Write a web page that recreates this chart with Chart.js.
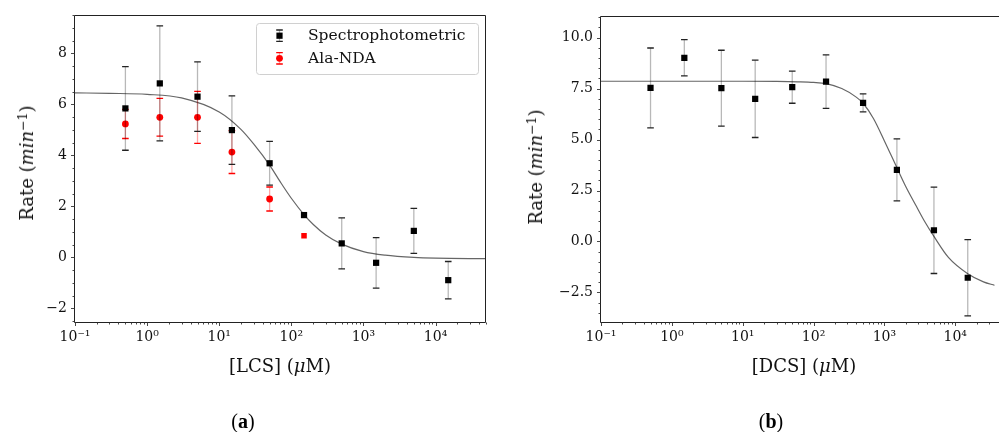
<!DOCTYPE html>
<html><head><meta charset="utf-8">
<script src="https://cdn.jsdelivr.net/npm/chart.js@4.4.0/dist/chart.umd.min.js"></script>
<style>
html,body{margin:0;padding:0;background:#fff;}
#wrap{position:relative;width:999px;height:432px;overflow:hidden;background:#fff;}
canvas{position:absolute;top:0;}
#ca{left:0;}
#cb{left:500px;}
.lbl{position:absolute;font-family:"DejaVu Serif",serif;font-size:18px;color:#111;white-space:nowrap;line-height:1;transform:translate(-50%,-50%);}
.ylbl{transform:translate(-50%,-50%) rotate(-90deg);}
.lbl sup{font-size:0.7em;vertical-align:0.5em;line-height:0;}
.cap{position:absolute;font-family:"Liberation Serif",serif;font-size:20px;color:#000;white-space:nowrap;line-height:1;transform:translate(-50%,-50%);}
</style>
</head><body>
<div id="wrap">
<canvas id="ca" width="500" height="432"></canvas>
<canvas id="cb" width="499" height="432"></canvas>
<div class="lbl ylbl" style="left:27px;top:163px;">Rate (<i>min</i><sup>−1</sup>)</div>
<div class="lbl" style="left:280px;top:366px;">[LCS] (<i>μ</i>M)</div>
<div class="cap" style="left:243px;top:421px;">(<b>a</b>)</div>
<div class="lbl ylbl" style="left:536px;top:167px;">Rate (<i>min</i><sup>−1</sup>)</div>
<div class="lbl" style="left:804px;top:366px;">[DCS] (<i>μ</i>M)</div>
<div class="cap" style="left:771px;top:421px;">(<b>b</b>)</div>
</div>
<script>
// ---------- data (a): LCS ----------
const concLCS = [0.5, 1.5, 5, 15, 50, 150, 500, 1500, 5000, 15000];
const rateSpecLCS = [5.84, 6.82, 6.30, 4.99, 3.69, 1.66, 0.55, -0.21, 1.04, -0.89];
const errSpecLCS = [1.64, 2.25, 1.36, 1.34, 0.86, 0.0, 1.00, 0.99, 0.88, 0.73];
const concAla = [0.5, 1.5, 5, 15, 50, 150];
const rateAla = [5.23, 5.49, 5.49, 4.13, 2.29, 0.85];
const errAla = [0.57, 0.74, 1.02, 0.84, 0.47, 0.0];
const alaMarkers = ['circle', 'circle', 'circle', 'circle', 'circle', 'rect'];
const fitConcLCS = [0.1, 0.3, 1, 3, 10, 20, 30, 50, 70, 100, 150, 200, 300, 500, 1000, 2000, 5000, 10000, 50000];
const fitRateLCS = [6.45, 6.43, 6.39, 6.25, 5.70, 5.02, 4.45, 3.62, 2.97, 2.32, 1.68, 1.30, 0.88, 0.52, 0.23, 0.09, 0.0, -0.03, -0.05];
// ---------- data (b): DCS ----------
const concDCS = [0.5, 1.5, 5, 15, 50, 150, 500, 1500, 5000, 15000];
const rateDCS = [7.53, 9.01, 7.52, 7.00, 7.57, 7.84, 6.80, 3.51, 0.55, -1.78];
const errDCS = [1.96, 0.89, 1.86, 1.90, 0.79, 1.31, 0.44, 1.52, 2.12, 1.87];
const fitConcDCS = [0.1, 1, 10, 30, 60, 100, 150, 250, 400, 500, 700, 1000, 1500, 2000, 2800, 3700, 5000, 8000, 15000, 25000, 36000];
const fitRateDCS = [7.86, 7.86, 7.86, 7.85, 7.83, 7.80, 7.74, 7.50, 7.08, 6.78, 6.03, 4.93, 3.62, 2.70, 1.75, 0.98, 0.25, -0.78, -1.58, -1.98, -2.15];
// ---------- ticks / labels ----------
const xTickVals = [0.1, 1, 10, 100, 1000, 10000];
const xTickLabels = ['10⁻¹', '10⁰', '10¹', '10²', '10³', '10⁴'];
const yTickValsA = [-2, 0, 2, 4, 6, 8];
const yTickLabelsA = ['−2', '0', '2', '4', '6', '8'];
const yTickValsB = [-2.5, 0, 2.5, 5, 7.5, 10];
const yTickLabelsB = ['−2.5', '0.0', '2.5', '5.0', '7.5', '10.0'];
const seriesNames = ['Spectrophotometric', 'Ala-NDA'];

Chart.defaults.font.family = '"DejaVu Serif", serif';
Chart.defaults.color = '#111';

function pts(xs, ys) { return xs.map((x, i) => ({ x: x, y: ys[i] })); }

const decor = {
  id: 'decor',
  beforeDatasetDraw(chart, args) {
    const ds = chart.data.datasets[args.index];
    if (!ds.errors) return;
    const xs = chart.scales.x, ys = chart.scales.y, ctx = chart.ctx;
    ctx.save();
    ctx.lineWidth = 1.3;
    ds.data.forEach((p, i) => {
      const e = ds.errors[i];
      if (!e) return;
      const px = xs.getPixelForValue(p.x);
      const t = ys.getPixelForValue(p.y + e), b = ys.getPixelForValue(p.y - e);
      ctx.strokeStyle = ds.errLineColor;
      ctx.beginPath(); ctx.moveTo(px, t); ctx.lineTo(px, b); ctx.stroke();
      ctx.strokeStyle = ds.errCapColor;
      ctx.beginPath();
      ctx.moveTo(px - 3.3, t); ctx.lineTo(px + 3.3, t);
      ctx.moveTo(px - 3.3, b); ctx.lineTo(px + 3.3, b);
      ctx.stroke();
    });
    ctx.restore();
  },
  afterDraw(chart, args, o) {
    const ctx = chart.ctx, a = chart.chartArea, xs = chart.scales.x, ys = chart.scales.y;
    ctx.save();
    // frame
    ctx.strokeStyle = '#222'; ctx.lineWidth = 1;
    const L = Math.round(a.left) - 0.5, T = Math.round(a.top) + 0.5, B = Math.round(a.bottom) + 0.5, R = Math.round(a.right) - 0.5;
    ctx.beginPath();
    ctx.moveTo(L, T); ctx.lineTo(L, B); ctx.lineTo(o.frameRight ? R : chart.width, B);
    ctx.moveTo(L, T); ctx.lineTo(o.frameRight ? R : chart.width, T);
    if (o.frameRight) { ctx.moveTo(R, T); ctx.lineTo(R, B); }
    ctx.stroke();
    // x ticks (log)
    ctx.strokeStyle = '#333'; ctx.lineWidth = 0.9;
    ctx.beginPath();
    for (let e = -1; e <= 5; e++) {
      for (let m = 1; m <= 9; m++) {
        const v = m * Math.pow(10, e);
        if (v < xs.min * 0.999 || v > xs.max * 1.001) continue;
        const px = Math.round(xs.getPixelForValue(v)) + 0.5;
        const len = m === 1 ? 3.5 : 2;
        ctx.moveTo(px, B); ctx.lineTo(px, B + len);
      }
    }
    // y ticks
    for (let v = Math.ceil(ys.min / o.yMinor) * o.yMinor; v <= ys.max + 1e-9; v += o.yMinor) {
      const py = Math.round(ys.getPixelForValue(v)) + 0.5;
      const major = o.yMajor.some(m => Math.abs(m - v) < 1e-6);
      const len = major ? 3.5 : 2;
      ctx.moveTo(L, py); ctx.lineTo(L - len, py);
    }
    ctx.stroke();
    // legend
    if (o.legend) {
      const g = o.legend;
      ctx.fillStyle = 'rgba(255,255,255,0.8)';
      ctx.strokeStyle = '#d0d0d0'; ctx.lineWidth = 1;
      ctx.beginPath();
      ctx.roundRect(g.x + 0.5, g.y + 0.5, g.w, g.h, 3);
      ctx.fill(); ctx.stroke();
      const dsets = chart.data.datasets.filter(d => d.errors);
      dsets.forEach((d, i) => {
        const cy = g.y + g.rows[i], cx = g.x + g.mx;
        ctx.lineWidth = 1.3;
        ctx.strokeStyle = d.errLineColor;
        ctx.beginPath(); ctx.moveTo(cx, cy - 5.7); ctx.lineTo(cx, cy + 5.7); ctx.stroke();
        ctx.strokeStyle = d.errCapColor;
        ctx.beginPath();
        ctx.moveTo(cx - 3.3, cy - 5.7); ctx.lineTo(cx + 3.3, cy - 5.7);
        ctx.moveTo(cx - 3.3, cy + 5.7); ctx.lineTo(cx + 3.3, cy + 5.7);
        ctx.stroke();
        ctx.fillStyle = d.pointBackgroundColor;
        ctx.beginPath();
        if (d.legendStyle === 'rect') {
          const s = d.legendRadius * Math.SQRT1_2;
          ctx.rect(cx - s, cy - s, 2 * s, 2 * s);
        } else {
          ctx.arc(cx, cy, d.legendRadius, 0, Math.PI * 2);
        }
        ctx.fill();
        ctx.fillStyle = '#111';
        ctx.font = '15.5px "DejaVu Serif", serif';
        ctx.textBaseline = 'middle'; ctx.textAlign = 'left';
        ctx.fillText(d.label, g.x + g.tx, cy + 0.5);
      });
    }
    ctx.restore();
  }
};

function makeChart(id, cfg) {
  return new Chart(document.getElementById(id), {
    type: 'scatter',
    data: { datasets: cfg.datasets },
    plugins: [decor],
    options: {
      responsive: false,
      animation: false,
      devicePixelRatio: 1,
      layout: { padding: cfg.padding },
      plugins: { legend: { display: false }, tooltip: { enabled: false }, decor: cfg.decor },
      scales: {
        x: {
          type: 'logarithmic', min: cfg.xMin, max: cfg.xMax,
          grid: { display: false, drawTicks: false }, border: { display: false },
          afterBuildTicks: s => { s.ticks = xTickVals.map(v => ({ value: v })); },
          afterFit: s => { s.height = 110; s.paddingLeft = 0; s.paddingRight = 0; },
          ticks: { autoSkip: false, maxRotation: 0, padding: 7, font: { size: 14 }, color: '#111',
            callback: (v, i) => xTickLabels[i] }
        },
        y: {
          type: 'linear', min: cfg.yMin, max: cfg.yMax,
          grid: { display: false, drawTicks: false }, border: { display: false },
          afterBuildTicks: s => { s.ticks = cfg.yVals.map(v => ({ value: v })); },
          afterFit: s => { s.width = cfg.yWidth; s.paddingTop = 0; s.paddingBottom = 0; },
          ticks: { autoSkip: false, padding: 8, font: { size: 14 }, color: '#111',
            callback: (v, i) => cfg.yLabels[i] }
        }
      }
    }
  });
}

makeChart('ca', {
  padding: { left: 0, top: 15, right: 14, bottom: 0 },
  xMin: 0.1, xMax: 50100, yMin: -2.53, yMax: 9.5, yWidth: 75,
  yVals: yTickValsA, yLabels: yTickLabelsA,
  decor: { frameRight: true, yMinor: 0.5, yMajor: yTickValsA,
    legend: { x: 256, y: 23, w: 222, h: 51, mx: 23.5, tx: 52, rows: [12.7, 35.3] } },
  datasets: [
    { label: seriesNames[0], data: pts(concLCS, rateSpecLCS), errors: errSpecLCS,
      errLineColor: 'rgba(0,0,0,0.28)', errCapColor: '#222',
      pointStyle: 'rect', pointRadius: 4.4, pointBorderWidth: 0,
      pointBackgroundColor: '#000', legendStyle: 'rect', legendRadius: 4.4, order: 1 },
    { label: seriesNames[1], data: pts(concAla, rateAla), errors: errAla,
      errLineColor: 'rgba(255,0,0,0.35)', errCapColor: '#f00',
      pointStyle: alaMarkers, pointRadius: [3.4, 3.4, 3.4, 3.4, 3.4, 3.9], pointBorderWidth: 0,
      pointBackgroundColor: '#f00', legendStyle: 'circle', legendRadius: 3.4, order: 2 },
    { label: 'fit', data: pts(fitConcLCS, fitRateLCS), showLine: true, pointRadius: 0,
      borderColor: '#666', borderWidth: 1.2, cubicInterpolationMode: 'monotone', order: 3 }
  ]
});

makeChart('cb', {
  padding: { left: 0, top: 16, right: 0, bottom: 0 },
  xMin: 0.1, xMax: 35900, yMin: -3.95, yMax: 11.06, yWidth: 101,
  yVals: yTickValsB, yLabels: yTickLabelsB,
  decor: { frameRight: false, yMinor: 0.5, yMajor: yTickValsB },
  datasets: [
    { label: 'DCS', data: pts(concDCS, rateDCS), errors: errDCS,
      errLineColor: 'rgba(0,0,0,0.28)', errCapColor: '#222',
      pointStyle: 'rect', pointRadius: 4.4, pointBorderWidth: 0,
      pointBackgroundColor: '#000', order: 1 },
    { label: 'fit', data: pts(fitConcDCS, fitRateDCS), showLine: true, pointRadius: 0,
      borderColor: '#666', borderWidth: 1.2, cubicInterpolationMode: 'monotone', order: 3 }
  ]
});
</script>
</body></html>
